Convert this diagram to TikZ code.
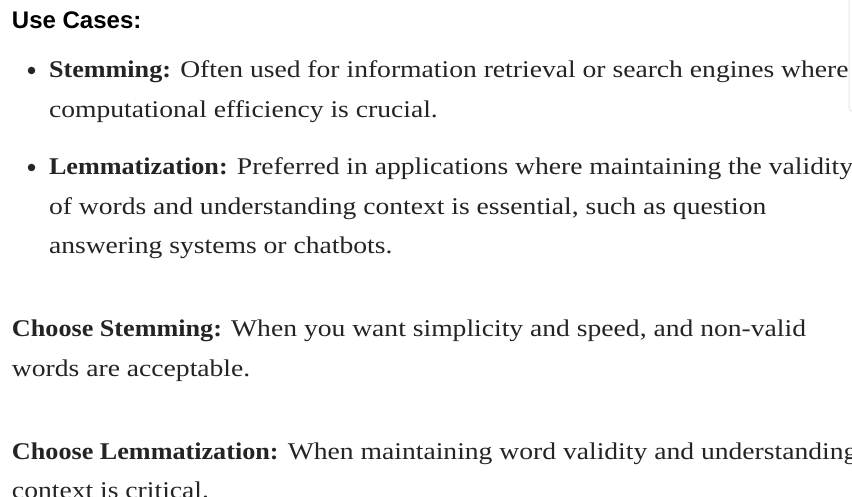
\documentclass[tikz,border=0pt]{standalone}
\usepackage{fontspec}
\setmainfont{Liberation Serif}[FakeStretch=1.15,BoldFeatures={FakeStretch=1.09}]
\newfontfamily\headfont{Liberation Sans}
\definecolor{txt}{HTML}{242424}
\definecolor{edge}{HTML}{E8E8E8}
\begin{document}
\begin{tikzpicture}[x=1pt,y=-1pt,
  line/.style={anchor=base west,inner sep=0pt,outer sep=0pt,text=txt,font=\fontsize{24}{24}\selectfont},
  head/.style={anchor=base west,inner sep=0pt,outer sep=0pt,text=black,font=\headfont\bfseries\fontsize{24}{24}\selectfont},
  dot/.style={circle,fill=txt,inner sep=0pt,minimum size=7.5pt}]
\useasboundingbox (0,0) rectangle (852,497);
\clip (0,0) rectangle (852,497);
\fill[white] (0,0) rectangle (852,497);
\draw[edge,line width=1pt,rounded corners=6pt] (849,-20) rectangle (880,112);
\node[head] (h) at (12,29) {Use Cases:};
\node[dot] (b1) at (31.5,70.5) {};
\node[line] (l1) at (49,78) {\textbf{Stemming:} Often used for information retrieval or search engines where};
\node[line] (l2) at (49,118) {computational efficiency is crucial.};
\node[dot] (b2) at (31.5,167.5) {};
\node[line] (l3) at (49,175) {\textbf{Lemmatization:} Preferred in applications where maintaining the validity};
\node[line] (l4) at (49,215) {of words and understanding context is essential, such as question};
\node[line] (l5) at (49,254) {answering systems or chatbots.};
\node[line] (l6) at (12,337) {\textbf{Choose Stemming:} When you want simplicity and speed, and non-valid};
\node[line] (l7) at (12,376) {words are acceptable.};
\node[line] (l8) at (12,459) {\textbf{Choose Lemmatization:} When maintaining word validity and understanding};
\node[line] (l9) at (12,498) {context is critical.};
\end{tikzpicture}
\end{document}
